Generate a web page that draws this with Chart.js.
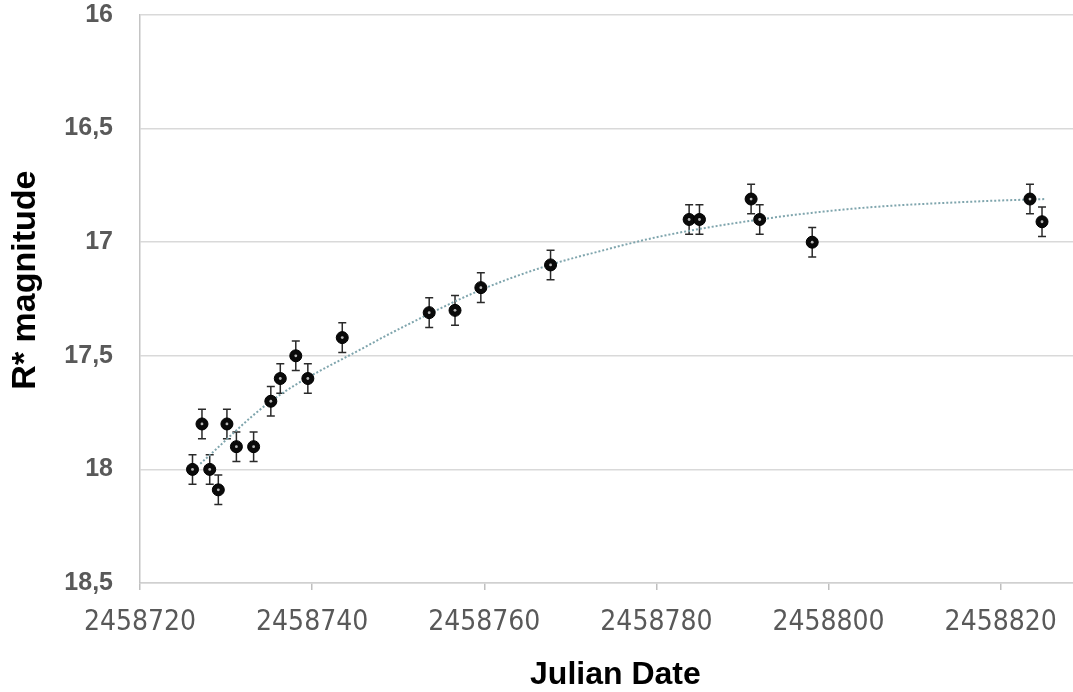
<!DOCTYPE html>
<html>
<head>
<meta charset="utf-8">
<script src="https://cdn.jsdelivr.net/npm/chart.js@4.4.1/dist/chart.umd.min.js"></script>
<style>
  html, body { margin: 0; padding: 0; background: #fff; }
  #wrap { width: 1073px; height: 692px; }
</style>
</head>
<body>
<div id="wrap"><canvas id="myChart" width="1073" height="692"></canvas></div>
<script>
// Observations (Julian Date, R* magnitude, error)
const julianDates = [
  2458726.1, 2458727.2, 2458728.1, 2458729.1, 2458730.1, 2458731.2,
  2458733.2, 2458735.2, 2458736.3, 2458738.1, 2458739.5, 2458743.5,
  2458753.6, 2458756.6, 2458759.6, 2458767.7, 2458783.8, 2458785.0,
  2458791.0, 2458792.0, 2458798.1, 2458823.4, 2458824.8
];
const magnitudes = [
  18.0, 17.8, 18.0, 18.09, 17.8, 17.9,
  17.9, 17.7, 17.6, 17.5, 17.6, 17.42,
  17.31, 17.3, 17.2, 17.1, 16.9, 16.9,
  16.81, 16.9, 17.0, 16.81, 16.91
];
const magErrors = [
  0.065, 0.065, 0.065, 0.065, 0.065, 0.065,
  0.065, 0.065, 0.065, 0.065, 0.065, 0.065,
  0.065, 0.065, 0.065, 0.065, 0.065, 0.065,
  0.065, 0.065, 0.065, 0.065, 0.065
];

// Trend line
const trendDates = [
  2458727.0, 2458735.2, 2458746.7, 2458750.2, 2458759.6, 2458767.6,
  2458773.4, 2458780.4, 2458792.0, 2458803.6, 2458817.6, 2458825.2
];
const trendMags = [
  17.975, 17.70, 17.45, 17.38, 17.21, 17.10,
  17.04, 16.975, 16.90, 16.85, 16.82, 16.81
];

// Axis ticks
const xTicks = [2458720, 2458740, 2458760, 2458780, 2458800, 2458820];
const yTicks = [16, 16.5, 17, 17.5, 18, 18.5];

const obsPoints = julianDates.map((jd, i) => ({ x: jd, y: magnitudes[i] }));
const trendPoints = trendDates.map((jd, i) => ({ x: jd, y: trendMags[i] }));

// Draws the vertical error bars with small caps
const errorBars = {
  id: "errorBars",
  beforeDatasetsDraw(chart) {
    const { ctx, scales: { x, y } } = chart;
    ctx.save();
    ctx.strokeStyle = "#2a2a2a";
    ctx.lineWidth = 1.5;
    julianDates.forEach((jd, i) => {
      const px = x.getPixelForValue(jd);
      const top = y.getPixelForValue(magnitudes[i] - magErrors[i]);
      const bot = y.getPixelForValue(magnitudes[i] + magErrors[i]);
      ctx.beginPath();
      ctx.moveTo(px, top);
      ctx.lineTo(px, bot);
      ctx.moveTo(px - 4, top);
      ctx.lineTo(px + 4, top);
      ctx.moveTo(px - 4, bot);
      ctx.lineTo(px + 4, bot);
      ctx.stroke();
    });
    ctx.restore();
  },
};

const ctx = document.getElementById("myChart");

new Chart(ctx, {
  type: "scatter",
  data: {
    datasets: [
      {
        type: "line",
        data: trendPoints,
        borderColor: "#7fa5ad",
        borderWidth: 2,
        borderDash: [2, 2],
        pointRadius: 0,
        cubicInterpolationMode: "monotone",
        fill: false,
        order: 3,
      },
      {
        data: obsPoints,
        backgroundColor: "#0a0a0a",
        borderColor: "#000",
        borderWidth: 1,
        pointRadius: 6,
        order: 2,
      },
      {
        data: obsPoints,
        backgroundColor: "#b8b8b8",
        borderWidth: 0,
        pointRadius: 1.4,
        order: 1,
      },
    ],
  },
  options: {
    responsive: false,
    animation: false,
    devicePixelRatio: 1,
    layout: { autoPadding: false, padding: { top: 15, right: 0, left: 0, bottom: 0 } },
    plugins: {
      legend: { display: false },
      tooltip: { enabled: false },
    },
    scales: {
      x: {
        type: "linear",
        min: 2458720,
        max: 2458828.4,
        afterFit: (scale) => {
          scale.height = 109;
          scale.paddingLeft = 0;
          scale.paddingRight = 0;
        },
        afterBuildTicks: (scale) => { scale.ticks = xTicks.map((v) => ({ value: v })); },
        grid: {
          drawOnChartArea: false,
          drawTicks: true,
          tickLength: 7,
          color: "#bfbfbf",
          lineWidth: 1.5,
        },
        border: { display: true, color: "#d0d0d0", width: 1.5 },
        ticks: {
          padding: 16,
          maxRotation: 0,
          color: "#595959",
          font: { family: "'Liberation Sans Narrow', 'DejaVu Sans Condensed', sans-serif", size: 28 },
          callback: (v) => String(v),
        },
        title: {
          display: true,
          text: "  Julian Date",
          color: "#000",
          font: { family: "'Liberation Sans', Arial, sans-serif", size: 32, weight: "bold", lineHeight: 1 },
          padding: { top: 0, bottom: 1 },
        },
      },
      y: {
        type: "linear",
        reverse: true,
        min: 16,
        max: 18.5,
        afterFit: (scale) => {
          scale.width = 140;
          scale.paddingTop = 0;
          scale.paddingBottom = 0;
        },
        afterBuildTicks: (scale) => { scale.ticks = yTicks.map((v) => ({ value: v })); },
        grid: {
          color: "#d9d9d9",
          lineWidth: 1.5,
          drawTicks: false,
        },
        border: { display: true, color: "#c4c4c4", width: 1.5 },
        ticks: {
          padding: 27,
          color: "#595959",
          font: { family: "'Liberation Sans', Arial, sans-serif", size: 25, weight: "bold" },
          callback: (v) => String(v).replace(".", ","),
        },
        title: {
          display: true,
          text: "    R* magnitude",
          color: "#000",
          font: { family: "'Liberation Sans', Arial, sans-serif", size: 34, weight: "bold" },
          padding: { top: 5, bottom: 0 },
        },
      },
    },
  },
  plugins: [errorBars],
});
</script>
</body>
</html>
